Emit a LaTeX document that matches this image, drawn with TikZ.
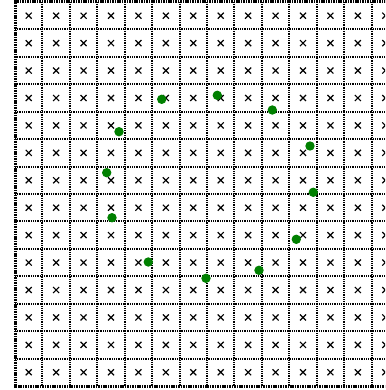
\documentclass[tikz,border=0pt]{standalone}
\definecolor{dotgreen}{RGB}{0,128,0}
\begin{document}
\begin{tikzpicture}[x=1pt,y=-1pt,
  gridline/.style={line width=2.1pt, dash pattern=on 1pt off 0.8pt, black},
  border/.style={line width=3pt, dash pattern=on 1.1pt off 0.6pt, black},
  cross/.style={line width=1.2pt, black},
  gdot/.style={fill=dotgreen, draw=none}]
\useasboundingbox (0,0) rectangle (385,390);
\clip (0,0) rectangle (385,390);
\fill[white] (0,0) rectangle (385,390);
\foreach \i in {1,...,13} {
  \draw[gridline] ({15+\i*27.43}, 2) -- ({15+\i*27.43}, 386);
  \draw[gridline] (15, {2+\i*27.43}) -- (400, {2+\i*27.43});
}
\draw[border] (400,2) -- (15,2) -- (15,386) -- (400,386);
\foreach \i in {0,...,13} {
  \foreach \j in {0,...,13} {
    \draw[cross] ({28.7+\i*27.43-3}, {15.7+\j*27.43-3}) -- ++(6,6)
                 ({28.7+\i*27.43-3}, {15.7+\j*27.43+3}) -- ++(6,-6);
  }
}
\foreach \p/\q in {161.7/99.3, 217.3/95.3, 272.3/110, 119/131.7, 310/146,
                   106.7/172.7, 313.3/192.3, 112/217.7, 296.3/239.3,
                   148.3/262, 206/278.3, 259/270.3} {
  \fill[gdot] (\p,\q) circle[radius=4.7];
}
\end{tikzpicture}
\end{document}
